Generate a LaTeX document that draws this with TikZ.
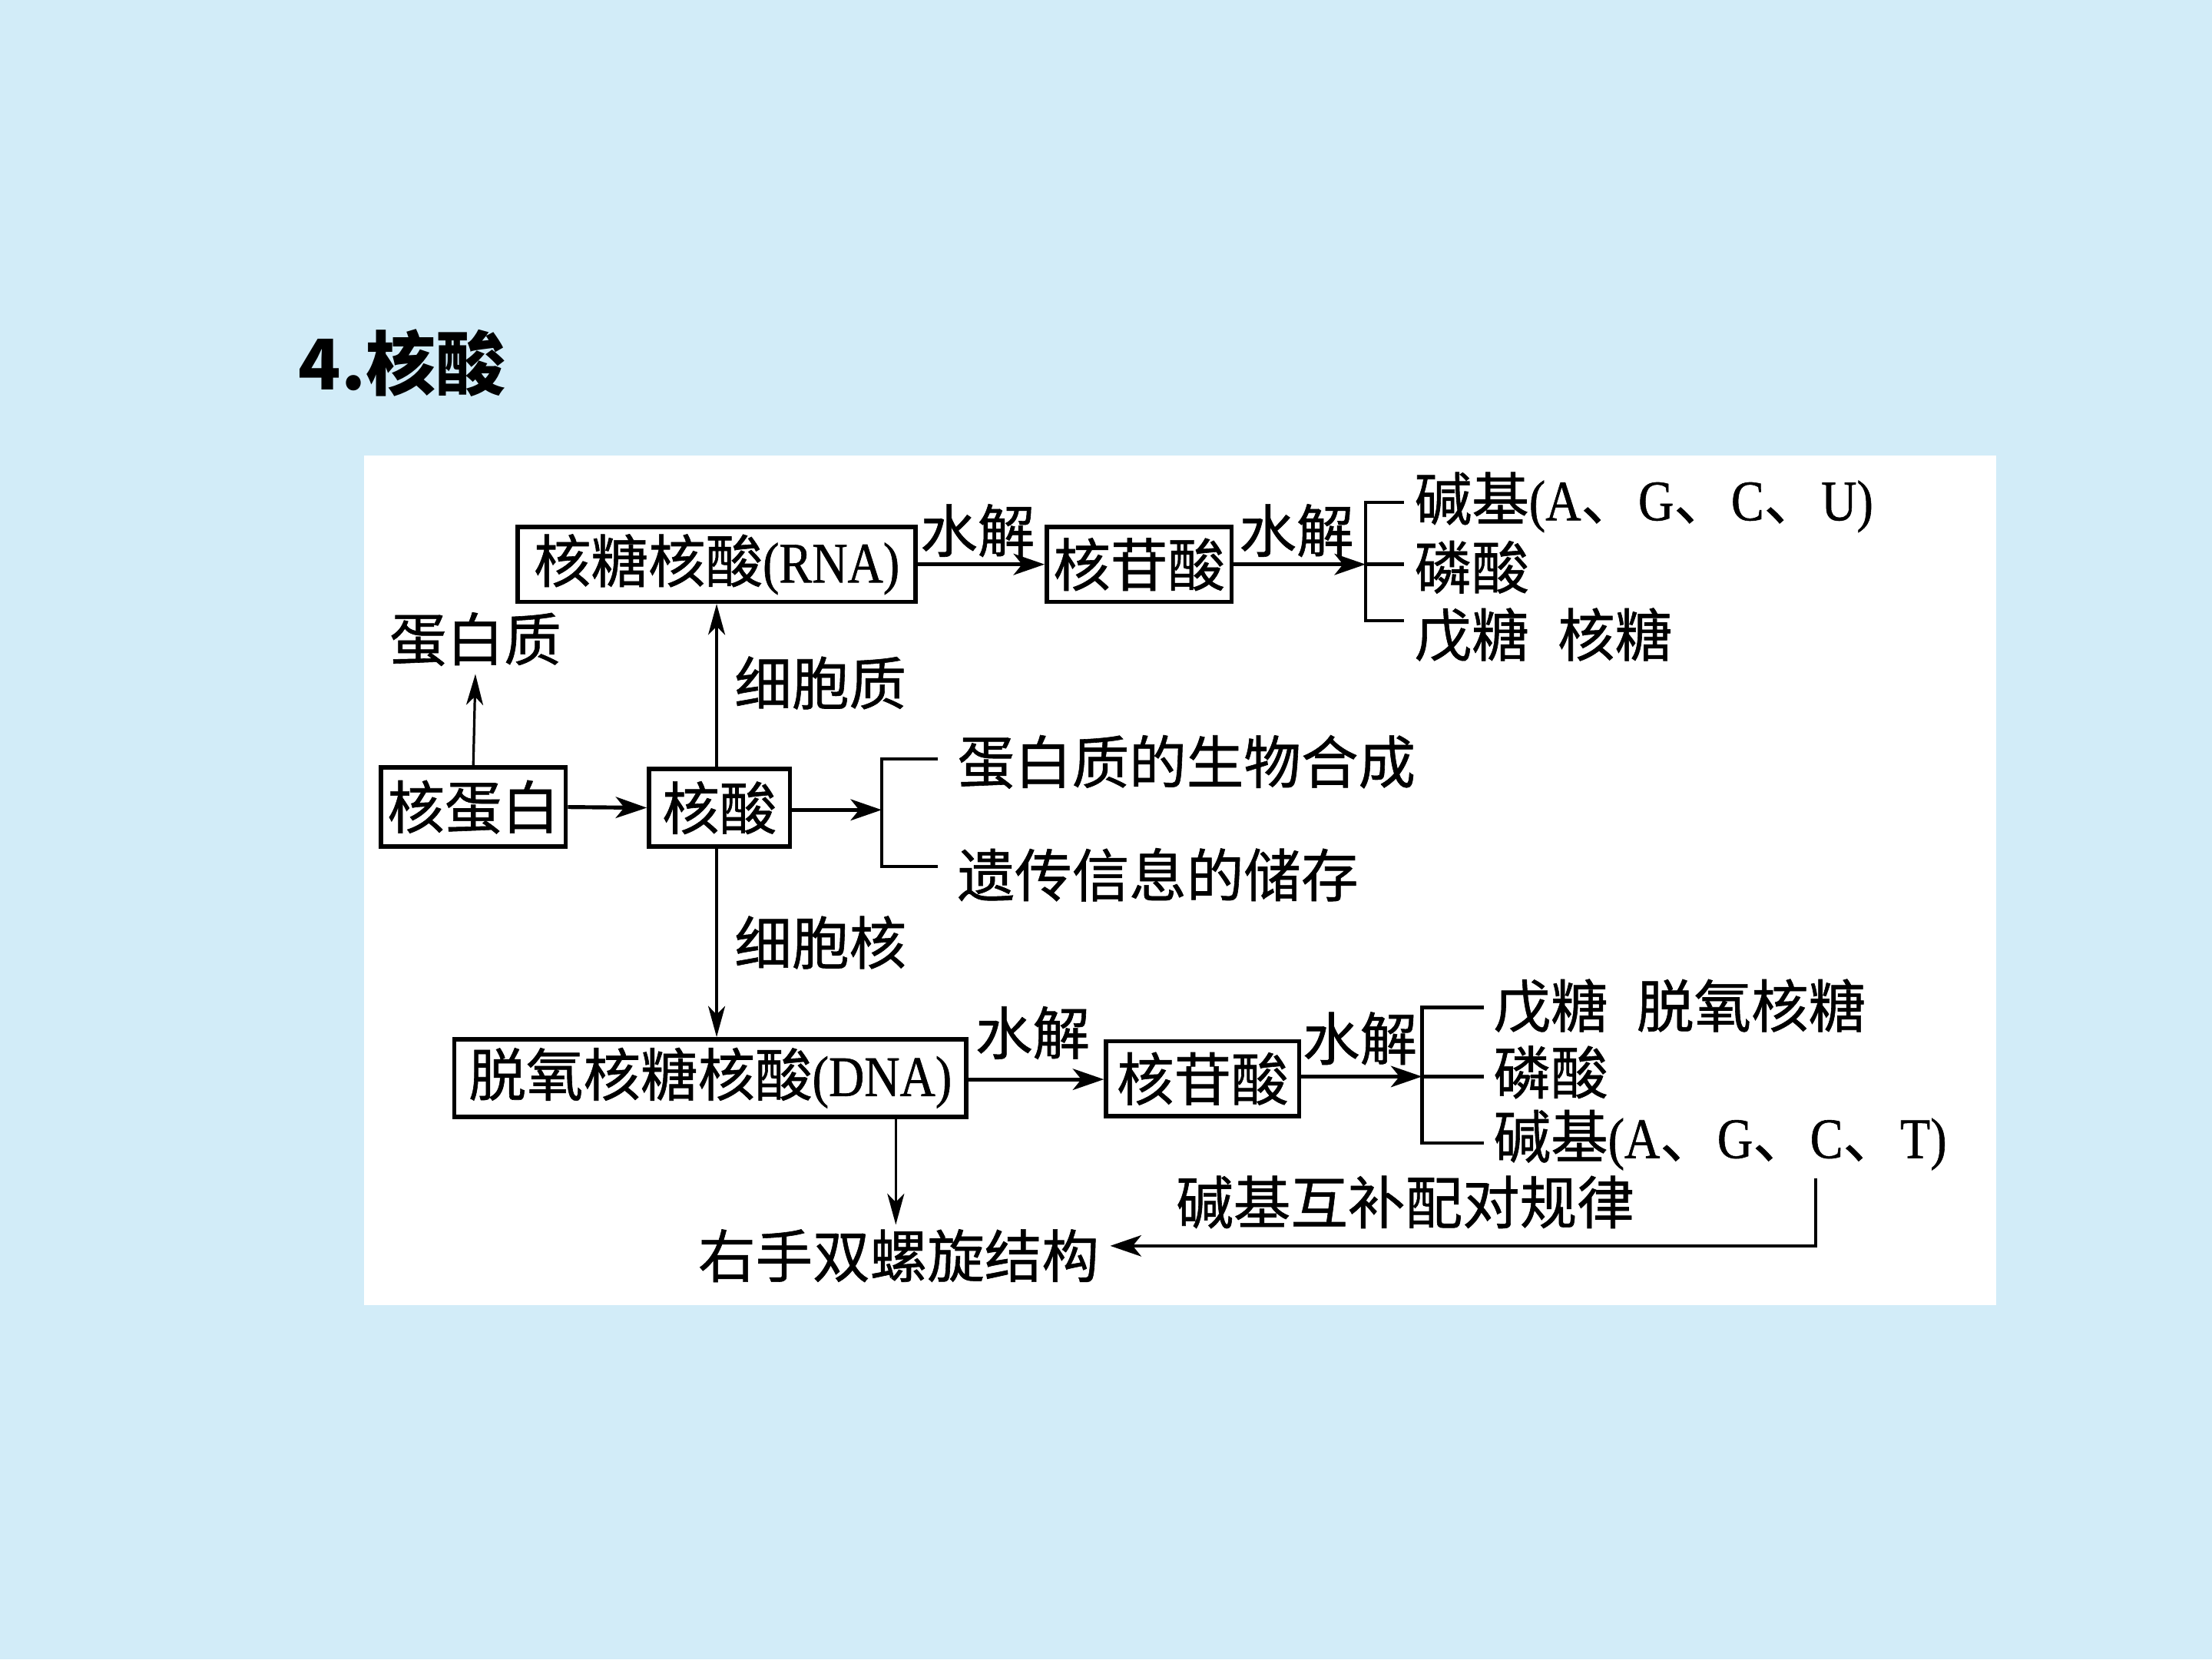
\documentclass[tikz,border=0pt]{standalone}
\usepackage{fontspec}
\setmainfont[FakeStretch=0.86,FakeBold=0.8]{Liberation Serif}
\newfontfamily\cjk[FakeBold=0.8]{Noto Sans CJK SC}
\newfontfamily\cjkt{Noto Sans CJK SC}
\usetikzlibrary{arrows.meta,calc}
\definecolor{bgblue}{RGB}{210,236,248}
\begin{document}
\begin{tikzpicture}[x=0.1mm,y=-0.1mm,
  every node/.style={inner sep=0pt, font=\fontsize{11.55pt}{13pt}\selectfont},
  box/.style={draw, line width=0.85pt},
  lbl/.style={anchor=west},
  harr/.style={-{Stealth[length=2.2mm,width=1.5mm,inset=0.6mm]}, line width=0.8pt},
  varr/.style={-{Stealth[length=2.2mm,width=1.2mm,inset=0.6mm]}, line width=0.5pt},
  brk/.style={line width=0.7pt}]
\useasboundingbox (0,0) rectangle (1568,1176);
\fill[bgblue] (0,0) rectangle (1568,1176);
\fill[white] (258,323) rectangle (1415,925);

% title
\node[anchor=west, font=\fontsize{14.1pt}{16pt}\selectfont\cjkt\bfseries] (title) at (211,257) {4.核酸};

% top row (RNA)
\node[box, minimum width=28.2mm, minimum height=5.3mm] (rna) at (508,400) {{\cjk 核糖核酸}(RNA)};
\node[box, minimum width=13.1mm, minimum height=5.3mm] (nt1) at (807.5,400) {\cjk 核苷酸};
\node (sj1) at (693,376) {\cjk 水解};
\node (sj2) at (919,376) {\cjk 水解};
\coordinate (b1) at (968,400);
\node[lbl] (r1) at (1002,356) {{\cjk 碱基}({A\cjk 、}G{\cjk 、}C{\cjk 、}U)};
\node[lbl] (r2) at (1002,402) {\cjk 磷酸};
\node[lbl] (r3) at (1002,450) {\cjk 戊糖\hspace{0.5em}核糖};
\draw[harr] (rna.east) -- (nt1.west);
\draw[harr] (nt1.east) -- (b1);
\draw[brk] (995,356) -- (968,356) -- (968,440) -- (995,440);
\draw[brk] (968,400) -- (995,400);

% middle row
\node (dbz) at (337,453) {\cjk 蛋白质};
\node[box, minimum width=13.1mm, minimum height=5.6mm] (hdb) at (335.5,572) {\cjk 核蛋白};
\node[box, minimum width=10.0mm, minimum height=5.5mm] (hs) at (510,572.5) {\cjk 核酸};
\node[lbl] (xbz) at (520,484) {\cjk 细胞质};
\node[lbl] (xbh) at (520,668) {\cjk 细胞核};
\coordinate (b2) at (625,574);
\node[lbl] (f1) at (678,540) {\cjk 蛋白质的生物合成};
\node[lbl] (f2) at (678,620) {\cjk 遗传信息的储存};
\draw[varr] (hdb.north) -- ($(dbz.south)+(0,5)$);
\draw[harr] (hdb.east) -- (hs.west);
\draw[varr] (hs.north -| 508,0) -- (508,0 |- rna.south);
\draw[harr] (hs.east |- b2) -- (b2);
\draw[brk] (665,538) -- (625,538) -- (625,614) -- (665,614);

% bottom row (DNA)
\node[box, minimum width=36.3mm, minimum height=5.5mm] (dna) at (503.5,764) {{\cjk 脱氧核糖核酸}(DNA)};
\node[box, minimum width=13.7mm, minimum height=5.3mm] (nt2) at (852.5,764.5) {\cjk 核苷酸};
\node (sj3) at (732,732) {\cjk 水解};
\node (sj4) at (964,736) {\cjk 水解};
\coordinate (b3) at (1008,763);
\node[lbl] (d1) at (1058,713) {\cjk 戊糖\hspace{0.5em}脱氧核糖};
\node[lbl] (d2) at (1058,760) {\cjk 磷酸};
\node[lbl] (d3) at (1058,808) {{\cjk 碱基}({A\cjk 、}G{\cjk 、}C{\cjk 、}T)};
\draw[varr] (hs.south -| 508,0) -- (508,0 |- dna.north);
\draw[harr] (dna.east |- 0,765) -- (nt2.west |- 0,765);
\draw[harr] (nt2.east |- b3) -- (b3);
\draw[brk] (1052,714) -- (1008,714) -- (1008,810) -- (1052,810);
\draw[brk] (1008,763) -- (1052,763);

% helix
\node (hx) at (637,890) {\cjk 右手双螺旋结构};
\node[lbl] (jb) at (833,852) {\cjk 碱基互补配对规律};
\coordinate (c1) at (1287,835);
\draw[varr] (dna.south -| 635,0) -- (635,868);
\draw[harr, line width=0.6pt] (c1) -- (1287,883) -- (787,883);
\end{tikzpicture}
\end{document}
